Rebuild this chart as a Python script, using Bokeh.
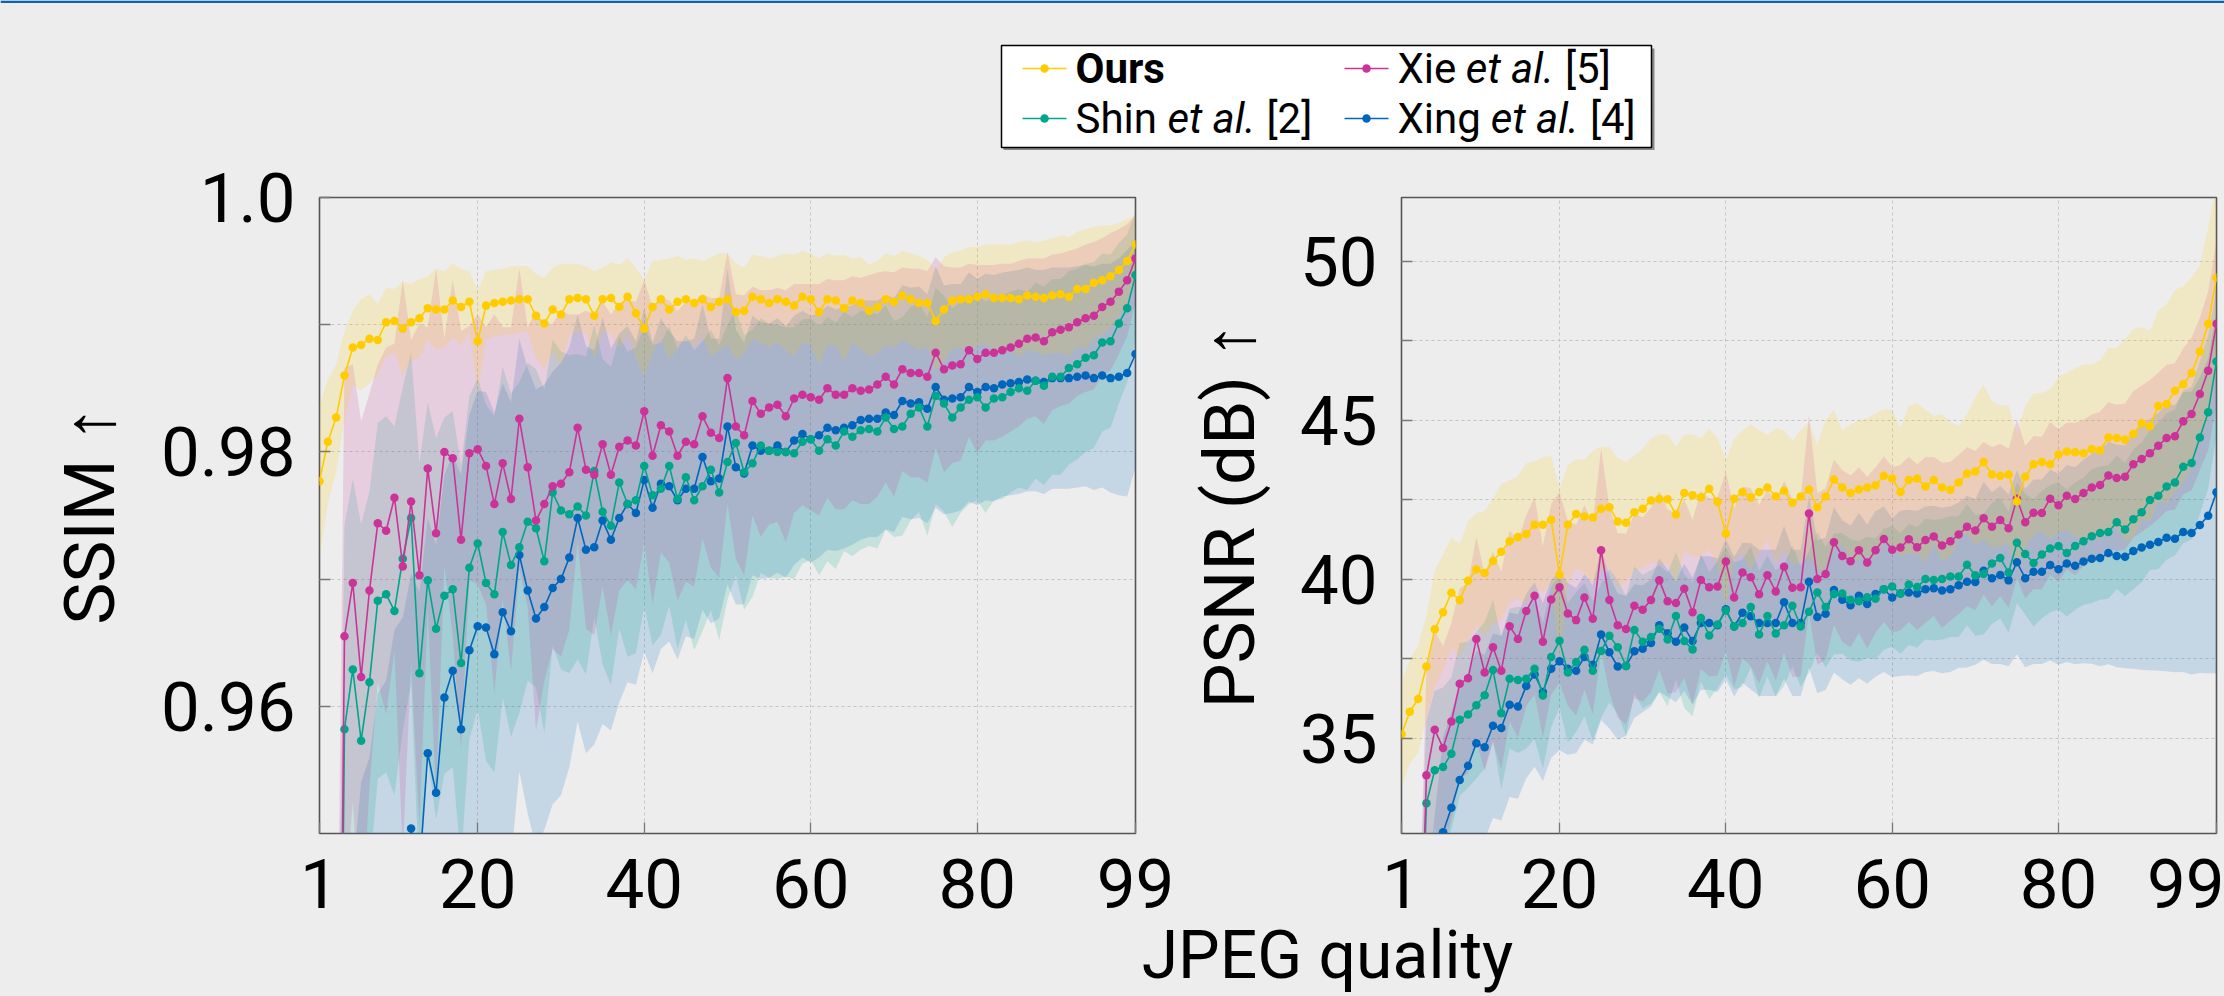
from bokeh.plotting import figure
from bokeh.layouts import column, row
from bokeh.models import Range1d, FixedTicker, CustomJSTickFormatter
from bokeh.core.properties import value
from bokeh.embed import file_html
from bokeh.resources import INLINE

BG = "#ededed"
C_OURS = "#ffcc00"
C_XIE = "#cc3399"
C_SHIN = "#00a68a"
C_XING = "#0066bb"
FONT = "Roboto"

quality = list(range(1, 100))

# ---------------- SSIM (left panel) ----------------
ssim_ours = [0.9777, 0.9808, 0.9827, 0.9860, 0.9882, 0.9884, 0.9889, 0.9888, 0.9902, 0.9903,
             0.9897, 0.9902, 0.9905, 0.9913, 0.9912, 0.9912, 0.9919, 0.9914, 0.9918, 0.9887,
             0.9915, 0.9917, 0.9918, 0.9919, 0.9920, 0.9920, 0.9907, 0.9901, 0.9912, 0.9908,
             0.9920, 0.9921, 0.9920, 0.9907, 0.9920, 0.9921, 0.9914, 0.9922, 0.9909, 0.9897,
             0.9914, 0.9920, 0.9912, 0.9918, 0.9920, 0.9917, 0.9920, 0.9914, 0.9918, 0.9920,
             0.9910, 0.9911, 0.9922, 0.9920, 0.9917, 0.9920, 0.9918, 0.9915, 0.9922, 0.9920,
             0.9910, 0.9920, 0.9919, 0.9913, 0.9919, 0.9917, 0.9911, 0.9914, 0.9920, 0.9918,
             0.9923, 0.9920, 0.9917, 0.9917, 0.9903, 0.9912, 0.9919, 0.9920, 0.9920, 0.9922,
             0.9924, 0.9921, 0.9921, 0.9921, 0.9920, 0.9923, 0.9922, 0.9921, 0.9923, 0.9924,
             0.9922, 0.9928, 0.9928, 0.9933, 0.9935, 0.9938, 0.9943, 0.9950, 0.9963]
ssim_ours_std = [0.0060, 0.0049, 0.0042, 0.0035, 0.0029, 0.0036, 0.0035, 0.0028, 0.0027, 0.0025,
                 0.0037, 0.0030, 0.0031, 0.0025, 0.0032, 0.0030, 0.0029, 0.0030, 0.0024, 0.0040,
                 0.0027, 0.0026, 0.0026, 0.0027, 0.0026, 0.0026, 0.0033, 0.0036, 0.0033, 0.0040,
                 0.0028, 0.0027, 0.0026, 0.0035, 0.0025, 0.0028, 0.0033, 0.0030, 0.0036, 0.0038,
                 0.0036, 0.0031, 0.0040, 0.0036, 0.0031, 0.0035, 0.0030, 0.0039, 0.0038, 0.0036,
                 0.0038, 0.0034, 0.0033, 0.0034, 0.0035, 0.0034, 0.0038, 0.0040, 0.0036, 0.0036,
                 0.0042, 0.0036, 0.0035, 0.0042, 0.0033, 0.0036, 0.0036, 0.0036, 0.0036, 0.0036,
                 0.0035, 0.0036, 0.0037, 0.0034, 0.0039, 0.0041, 0.0038, 0.0038, 0.0041, 0.0039,
                 0.0039, 0.0042, 0.0042, 0.0042, 0.0045, 0.0043, 0.0043, 0.0045, 0.0045, 0.0046,
                 0.0047, 0.0045, 0.0047, 0.0044, 0.0043, 0.0040, 0.0037, 0.0033, 0.0023]

ssim_xie = [0.880, 0.890, 0.900, 0.9655, 0.9697, 0.9623, 0.9691, 0.9744, 0.9738, 0.9764,
            0.9710, 0.9761, 0.9703, 0.9787, 0.9736, 0.9800, 0.9795, 0.9731, 0.9799, 0.9802,
            0.9789, 0.9759, 0.9791, 0.9763, 0.9826, 0.9788, 0.9746, 0.9759, 0.9773, 0.9775,
            0.9784, 0.9819, 0.9786, 0.9782, 0.9806, 0.9782, 0.9804, 0.9809, 0.9805, 0.9832,
            0.9797, 0.9821, 0.9816, 0.9797, 0.9808, 0.9806, 0.9828, 0.9815, 0.9811, 0.9858,
            0.9820, 0.9813, 0.9840, 0.9830, 0.9835, 0.9837, 0.9828, 0.9842, 0.9845, 0.9843,
            0.9841, 0.9850, 0.9845, 0.9845, 0.9850, 0.9848, 0.9849, 0.9853, 0.9859, 0.9853,
            0.9865, 0.9862, 0.9862, 0.9859, 0.9878, 0.9865, 0.9868, 0.9869, 0.9880, 0.9873,
            0.9878, 0.9878, 0.9880, 0.9882, 0.9885, 0.9889, 0.9890, 0.9887, 0.9894, 0.9896,
            0.9898, 0.9902, 0.9905, 0.9907, 0.9914, 0.9918, 0.9926, 0.9935, 0.9952]
ssim_xie_std = [0.030, 0.030, 0.030, 0.0211, 0.0172, 0.0201, 0.0155, 0.0125, 0.0144, 0.0121,
                0.0225, 0.0127, 0.0198, 0.0111, 0.0208, 0.0089, 0.0140, 0.0164, 0.0100, 0.0106,
                0.0109, 0.0149, 0.0107, 0.0135, 0.0118, 0.0110, 0.0165, 0.0139, 0.0128, 0.0136,
                0.0124, 0.0089, 0.0125, 0.0126, 0.0112, 0.0126, 0.0113, 0.0110, 0.0113, 0.0103,
                0.0117, 0.0100, 0.0103, 0.0114, 0.0110, 0.0112, 0.0096, 0.0106, 0.0110, 0.0099,
                0.0104, 0.0110, 0.0090, 0.0097, 0.0092, 0.0092, 0.0099, 0.0090, 0.0087, 0.0089,
                0.0091, 0.0086, 0.0090, 0.0090, 0.0088, 0.0089, 0.0090, 0.0088, 0.0083, 0.0088,
                0.0080, 0.0082, 0.0082, 0.0083, 0.0075, 0.0081, 0.0077, 0.0076, 0.0068, 0.0074,
                0.0069, 0.0069, 0.0068, 0.0066, 0.0065, 0.0063, 0.0062, 0.0065, 0.0061, 0.0060,
                0.0060, 0.0058, 0.0058, 0.0058, 0.0054, 0.0054, 0.0049, 0.0044, 0.0034]

ssim_shin = [0.875, 0.885, 0.895, 0.9582, 0.9629, 0.9573, 0.9619, 0.9683, 0.9688, 0.9675,
             0.9716, 0.9748, 0.9626, 0.9699, 0.9661, 0.9687, 0.9692, 0.9634, 0.9709, 0.9728,
             0.9697, 0.9688, 0.9737, 0.9711, 0.9725, 0.9745, 0.9740, 0.9714, 0.9768, 0.9754,
             0.9751, 0.9757, 0.9750, 0.9785, 0.9753, 0.9742, 0.9776, 0.9759, 0.9762, 0.9789,
             0.9766, 0.9771, 0.9789, 0.9763, 0.9780, 0.9762, 0.9773, 0.9786, 0.9768, 0.9792,
             0.9807, 0.9784, 0.9791, 0.9805, 0.9801, 0.9800, 0.9800, 0.9799, 0.9808, 0.9810,
             0.9801, 0.9810, 0.9805, 0.9816, 0.9812, 0.9817, 0.9818, 0.9816, 0.9827, 0.9818,
             0.9820, 0.9830, 0.9835, 0.9820, 0.9844, 0.9838, 0.9827, 0.9835, 0.9841, 0.9843,
             0.9835, 0.9842, 0.9843, 0.9847, 0.9850, 0.9848, 0.9856, 0.9852, 0.9859, 0.9859,
             0.9866, 0.9869, 0.9874, 0.9876, 0.9886, 0.9887, 0.9901, 0.9913, 0.9939]
ssim_shin_std = [0.030, 0.030, 0.030, 0.0160, 0.0150, 0.0170, 0.0150, 0.0140, 0.0140, 0.0145,
                 0.0135, 0.0130, 0.0165, 0.0140, 0.0150, 0.0140, 0.0140, 0.0155, 0.0135, 0.0130,
                 0.0140, 0.0140, 0.0130, 0.0135, 0.0130, 0.0125, 0.0125, 0.0135, 0.0120, 0.0125,
                 0.0125, 0.0120, 0.0125, 0.0115, 0.0120, 0.0125, 0.0115, 0.0120, 0.0120, 0.0110,
                 0.0118, 0.0115, 0.0110, 0.0118, 0.0112, 0.0118, 0.0114, 0.0110, 0.0116, 0.0108,
                 0.0104, 0.0108, 0.0105, 0.0100, 0.0100, 0.0100, 0.0098, 0.0099, 0.0096, 0.0095,
                 0.0098, 0.0096, 0.0097, 0.0094, 0.0094, 0.0094, 0.0092, 0.0092, 0.0088, 0.0085,
                 0.0086, 0.0084, 0.0082, 0.0086, 0.0085, 0.0085, 0.0086, 0.0083, 0.0082, 0.0081,
                 0.0083, 0.0080, 0.0080, 0.0079, 0.0078, 0.0078, 0.0077, 0.0078, 0.0077, 0.0077,
                 0.0076, 0.0075, 0.0074, 0.0073, 0.0070, 0.0068, 0.0063, 0.0058, 0.0050]

ssim_xing = [0.881, 0.893, 0.899, 0.912, 0.917, 0.926, 0.929, 0.935, 0.937, 0.942,
             0.944, 0.9504, 0.9470, 0.9563, 0.9532, 0.9607, 0.9628, 0.9582, 0.9644, 0.9663,
             0.9662, 0.9641, 0.9674, 0.9659, 0.9719, 0.9691, 0.9669, 0.9678, 0.9693, 0.9700,
             0.9717, 0.9748, 0.9723, 0.9725, 0.9746, 0.9731, 0.9748, 0.9759, 0.9752, 0.9778,
             0.9756, 0.9775, 0.9773, 0.9762, 0.9771, 0.9771, 0.9796, 0.9777, 0.9779, 0.9820,
             0.9788, 0.9783, 0.9805, 0.9801, 0.9801, 0.9805, 0.9800, 0.9809, 0.9814, 0.9810,
             0.9813, 0.9819, 0.9817, 0.9819, 0.9821, 0.9825, 0.9826, 0.9826, 0.9831, 0.9829,
             0.9840, 0.9838, 0.9839, 0.9834, 0.9851, 0.9841, 0.9842, 0.9843, 0.9851, 0.9847,
             0.9851, 0.9850, 0.9853, 0.9854, 0.9855, 0.9857, 0.9856, 0.9855, 0.9858, 0.9858,
             0.9858, 0.9859, 0.9860, 0.9858, 0.9860, 0.9858, 0.9859, 0.9862, 0.9877]
ssim_xing_std = [0.030, 0.030, 0.030, 0.030, 0.030, 0.028, 0.027, 0.026, 0.025, 0.024,
                 0.023, 0.0200, 0.0220, 0.0185, 0.0195, 0.0175, 0.0170, 0.0200, 0.0185, 0.0185,
                 0.0185, 0.0190, 0.0180, 0.0180, 0.0170, 0.0175, 0.0180, 0.0175, 0.0170, 0.0170,
                 0.0165, 0.0160, 0.0160, 0.0155, 0.0160, 0.0150, 0.0145, 0.0140, 0.0135, 0.0135,
                 0.0130, 0.0130, 0.0122, 0.0125, 0.0116, 0.0118, 0.0120, 0.0112, 0.0110, 0.0124,
                 0.0108, 0.0103, 0.0102, 0.0101, 0.0100, 0.0100, 0.0099, 0.0098, 0.0097, 0.0097,
                 0.0096, 0.0096, 0.0095, 0.0095, 0.0094, 0.0094, 0.0093, 0.0093, 0.0092, 0.0092,
                 0.0091, 0.0091, 0.0091, 0.0090, 0.0095, 0.0090, 0.0090, 0.0089, 0.0090, 0.0089,
                 0.0089, 0.0089, 0.0088, 0.0088, 0.0088, 0.0088, 0.0087, 0.0088, 0.0087, 0.0087,
                 0.0087, 0.0087, 0.0087, 0.0088, 0.0088, 0.0090, 0.0093, 0.0097, 0.0089]

# ---------------- PSNR (right panel) ----------------
psnr_ours = [35.12, 35.83, 36.23, 37.25, 38.42, 38.96, 39.57, 39.34, 39.95, 40.30,
             40.19, 40.57, 40.86, 41.19, 41.32, 41.42, 41.71, 41.71, 41.87, 40.14,
             41.71, 42.05, 41.97, 41.94, 42.21, 42.26, 41.81, 41.77, 42.10, 42.21,
             42.47, 42.52, 42.51, 42.03, 42.71, 42.64, 42.57, 42.84, 42.43, 41.43,
             42.53, 42.74, 42.57, 42.74, 42.88, 42.60, 42.78, 42.40, 42.60, 42.82,
             42.26, 42.60, 43.13, 42.88, 42.71, 42.82, 42.88, 42.95, 43.25, 43.16,
             42.74, 43.12, 43.16, 42.91, 43.12, 42.88, 42.81, 43.04, 43.32, 43.38,
             43.68, 43.29, 43.25, 43.29, 42.44, 43.22, 43.61, 43.68, 43.61, 43.92,
             44.01, 43.99, 43.96, 44.09, 44.05, 44.45, 44.44, 44.38, 44.57, 44.90,
             44.81, 45.44, 45.51, 45.92, 46.13, 46.48, 47.16, 48.03, 49.48]
psnr_ours_std = [1.64, 1.64, 1.69, 1.60, 1.84, 1.82, 1.73, 1.77, 1.87, 1.78,
                 1.95, 1.96, 2.13, 1.92, 1.92, 2.22, 1.99, 2.12, 2.00, 2.71,
                 1.86, 1.71, 1.79, 2.09, 1.95, 1.90, 2.00, 1.90, 1.79, 1.88,
                 1.95, 2.03, 2.04, 2.13, 1.83, 1.91, 1.86, 1.90, 1.99, 2.34,
                 1.88, 1.94, 2.30, 1.94, 1.66, 2.14, 1.90, 1.95, 2.08, 2.12,
                 1.96, 2.40, 2.19, 1.79, 2.16, 2.18, 2.18, 2.25, 2.08, 2.17,
                 2.00, 2.34, 2.36, 2.42, 2.01, 2.31, 2.13, 1.77, 1.87, 2.34,
                 2.43, 2.30, 2.21, 2.17, 2.10, 2.23, 2.23, 2.17, 2.36, 2.44,
                 2.48, 2.64, 2.79, 2.66, 2.83, 2.82, 2.83, 3.16, 3.29, 3.03,
                 2.99, 3.00, 3.13, 3.17, 3.09, 3.00, 2.71, 3.01, 3.00]

psnr_xie = [22.0, 23.5, 25.0, 33.83, 35.26, 34.69, 35.52, 36.71, 36.88, 38.12,
            37.06, 37.86, 37.12, 38.52, 38.12, 39.00, 39.48, 38.03, 39.36, 39.74,
            38.92, 38.71, 39.42, 38.75, 40.91, 39.34, 38.55, 38.43, 39.16, 39.04,
            39.34, 39.96, 39.30, 39.25, 39.70, 38.96, 39.97, 39.74, 39.77, 40.55,
            39.42, 40.21, 40.06, 39.52, 40.12, 39.61, 40.39, 39.73, 39.74, 42.06,
            40.00, 40.16, 41.16, 40.73, 40.56, 40.91, 40.52, 40.91, 41.26, 40.92,
            40.99, 41.25, 41.00, 41.23, 41.34, 41.06, 41.19, 41.40, 41.65, 41.53,
            41.91, 41.65, 41.86, 41.60, 42.53, 41.79, 42.09, 42.08, 42.53, 42.32,
            42.62, 42.52, 42.71, 42.88, 42.96, 43.26, 43.18, 43.22, 43.61, 43.78,
            43.96, 44.19, 44.44, 44.49, 44.96, 45.19, 45.82, 46.55, 48.03]
psnr_xie_std = [3.0, 3.0, 3.0, 3.3, 3.1, 3.2, 3.1, 3.0, 3.0, 3.2,
                3.1, 3.0, 3.1, 3.0, 3.1, 3.0, 3.1, 3.0, 3.0, 3.0,
                2.9, 3.0, 2.9, 3.0, 3.2, 2.9, 2.9, 3.0, 2.9, 2.9,
                2.9, 2.8, 2.9, 2.8, 2.8, 2.9, 2.8, 2.8, 2.8, 2.8,
                2.8, 2.7, 2.8, 2.8, 2.7, 2.8, 2.7, 2.8, 2.8, 3.1,
                2.7, 2.7, 2.6, 2.7, 2.7, 2.6, 2.7, 2.6, 2.6, 2.6,
                2.6, 2.6, 2.6, 2.6, 2.5, 2.6, 2.5, 2.5, 2.5, 2.5,
                2.4, 2.5, 2.4, 2.5, 2.5, 2.4, 2.4, 2.4, 2.4, 2.4,
                2.3, 2.4, 2.3, 2.3, 2.3, 2.3, 2.3, 2.3, 2.3, 2.3,
                2.3, 2.3, 2.3, 2.3, 2.3, 2.4, 2.4, 2.5, 2.6]

psnr_shin = [22.5, 24.0, 25.5, 32.95, 33.99, 34.09, 34.51, 35.58, 35.74, 36.03,
             36.35, 37.14, 35.78, 36.87, 36.83, 36.87, 37.18, 36.34, 37.55, 38.06,
             37.06, 37.39, 37.78, 37.12, 37.74, 38.22, 37.86, 37.27, 38.40, 38.03,
             38.18, 38.44, 38.10, 38.84, 38.05, 37.79, 38.78, 38.23, 38.57, 39.01,
             38.52, 38.62, 39.12, 38.26, 38.84, 38.29, 38.55, 39.16, 38.51, 38.97,
             39.58, 39.12, 39.53, 39.55, 39.35, 39.30, 39.43, 39.38, 39.68, 39.77,
             39.55, 39.83, 39.75, 40.00, 39.97, 40.00, 40.08, 40.08, 40.45, 40.12,
             40.16, 40.49, 40.66, 40.21, 41.14, 40.79, 40.51, 40.77, 40.96, 41.04,
             40.82, 41.04, 41.19, 41.35, 41.45, 41.48, 41.79, 41.56, 41.88, 42.10,
             42.49, 42.62, 42.91, 43.04, 43.53, 43.65, 44.45, 45.25, 46.84]
psnr_shin_std = [3.0, 3.0, 3.0, 2.6, 2.5, 2.5, 2.4, 2.4, 2.3, 2.3,
                 2.3, 2.2, 2.4, 2.2, 2.3, 2.2, 2.2, 2.3, 2.2, 2.1,
                 2.2, 2.2, 2.1, 2.2, 2.1, 2.1, 2.1, 2.2, 2.0, 2.1,
                 2.1, 2.0, 2.1, 2.0, 2.1, 2.1, 2.0, 2.0, 2.0, 2.0,
                 2.0, 2.0, 1.9, 2.0, 1.9, 2.0, 1.9, 1.9, 1.9, 1.9,
                 1.9, 1.9, 1.9, 1.9, 1.9, 1.9, 1.9, 1.9, 1.9, 1.9,
                 1.9, 1.9, 1.9, 1.9, 1.9, 1.9, 1.9, 1.9, 1.9, 1.9,
                 1.9, 1.9, 1.9, 1.9, 1.9, 1.9, 2.0, 2.0, 2.0, 2.0,
                 2.0, 2.0, 2.0, 2.1, 2.1, 2.1, 2.1, 2.1, 2.2, 2.2,
                 2.2, 2.3, 2.3, 2.3, 2.4, 2.4, 2.4, 2.4, 2.3]

psnr_xing = [21.8, 23.9, 25.2, 27.1, 29.6, 32.04, 32.81, 33.68, 34.13, 34.84,
             34.71, 35.39, 35.32, 36.05, 35.99, 36.64, 37.00, 36.45, 37.18, 37.42,
             37.18, 37.12, 37.55, 37.31, 38.26, 37.70, 37.25, 37.27, 37.73, 37.81,
             37.99, 38.55, 38.30, 38.03, 38.48, 38.05, 38.62, 38.62, 38.55, 39.05,
             38.51, 38.94, 38.83, 38.62, 38.62, 38.62, 39.27, 38.62, 38.62, 39.92,
             38.81, 38.91, 39.66, 39.35, 39.18, 39.48, 39.22, 39.53, 39.68, 39.42,
             39.55, 39.58, 39.55, 39.68, 39.71, 39.64, 39.68, 39.81, 39.92, 39.91,
             40.26, 40.03, 40.13, 39.96, 40.53, 40.03, 40.23, 40.23, 40.44, 40.31,
             40.49, 40.42, 40.55, 40.64, 40.66, 40.82, 40.73, 40.70, 40.88, 40.99,
             41.08, 41.17, 41.30, 41.27, 41.48, 41.45, 41.70, 41.99, 42.73]
psnr_xing_std = [3.0, 3.0, 3.0, 3.0, 3.0, 3.0, 3.0, 3.0, 2.9, 2.9,
                 2.9, 2.9, 2.9, 2.9, 2.9, 2.9, 2.9, 2.8, 2.8, 2.8,
                 2.7, 2.6, 2.6, 2.5, 2.7, 2.4, 2.3, 2.2, 2.1, 2.0,
                 2.0, 2.1, 2.0, 1.9, 2.0, 2.0, 2.1, 2.1, 2.1, 2.2,
                 2.2, 2.2, 2.3, 2.3, 2.3, 2.3, 2.4, 2.3, 2.3, 2.7,
                 2.4, 2.4, 2.6, 2.5, 2.5, 2.6, 2.5, 2.6, 2.6, 2.5,
                 2.6, 2.6, 2.6, 2.6, 2.6, 2.6, 2.6, 2.6, 2.7, 2.6,
                 2.8, 2.7, 2.8, 2.7, 2.9, 2.8, 2.9, 2.9, 3.0, 3.0,
                 3.1, 3.1, 3.2, 3.3, 3.4, 3.5, 3.5, 3.5, 3.7, 3.85,
                 3.95, 4.05, 4.2, 4.2, 4.4, 4.45, 4.65, 4.95, 5.7]

x_tick_values = [1, 20, 40, 60, 80, 99]
ssim_ticks = [0.96, 0.98, 1.0]
ssim_minor = [0.97, 0.99]
psnr_ticks = [35, 40, 45, 50]
psnr_minor = [37.5, 42.5, 47.5]

TOP_H = 151
PANEL_TOP = 46
FRAME_H = 636
PANEL_BOTTOM = 100
PANEL_H = PANEL_TOP + FRAME_H + PANEL_BOTTOM
BOT_START = 900
BOT_OVERLAP = TOP_H + PANEL_H - BOT_START
BOT_H = 996 - BOT_START
WL = 1180
WR = 2224 - WL


def style_panel(p, ticks, minor, fmt_code, ylabel, label_standoff):
    p.background_fill_color = BG
    p.border_fill_color = BG
    p.outline_line_color = "#555555"
    p.outline_line_width = 1.6
    p.xaxis.ticker = FixedTicker(ticks=x_tick_values)
    p.yaxis.ticker = FixedTicker(ticks=ticks, minor_ticks=minor)
    p.yaxis.formatter = CustomJSTickFormatter(code=fmt_code)
    for ax in (p.xaxis[0], p.yaxis[0]):
        ax.axis_line_color = None
        ax.major_tick_in = 11
        ax.major_tick_out = 0
        ax.minor_tick_in = 11
        ax.minor_tick_out = 0
        ax.major_tick_line_color = "#777777"
        ax.minor_tick_line_color = "#777777"
        ax.major_tick_line_width = 1.3
        ax.minor_tick_line_width = 1.3
        ax.major_label_text_font = FONT
        ax.major_label_text_font_size = "69px"
        ax.major_label_text_color = "#000000"
    p.xaxis.major_label_standoff = 25
    p.yaxis.major_label_standoff = 24
    p.xaxis.minor_tick_line_color = None
    p.yaxis.axis_label = ylabel
    p.yaxis.axis_label_text_font = FONT
    p.yaxis.axis_label_text_font_size = "71px"
    p.yaxis.axis_label_text_font_style = "normal"
    p.yaxis.axis_label_text_color = "#000000"
    p.yaxis.axis_label_standoff = label_standoff
    p.xgrid.grid_line_color = "#c4c4c4"
    p.xgrid.grid_line_dash = "3 3"
    p.xgrid.grid_line_width = 1
    p.ygrid.grid_line_color = "#c4c4c4"
    p.ygrid.grid_line_dash = "3 3"
    p.ygrid.grid_line_width = 1
    p.ygrid.minor_grid_line_color = "#c4c4c4"
    p.ygrid.minor_grid_line_dash = "3 3"
    p.ygrid.minor_grid_line_width = 1


def draw_series(p, data):
    colors = {"Ours": C_OURS, "Shin": C_SHIN, "Xie": C_XIE, "Xing": C_XING}
    order = ["Xing", "Shin", "Xie", "Ours"]
    for name in order:
        mean, std = data[name]
        lo = [m - s for m, s in zip(mean, std)]
        hi = [m + s for m, s in zip(mean, std)]
        p.varea(x=quality, y1=lo, y2=hi, fill_color=colors[name], fill_alpha=0.17)
    for name in order:
        mean, std = data[name]
        p.line(quality, mean, line_color=colors[name], line_width=1.6)
        p.scatter(quality, mean, size=8.5, fill_color=colors[name], line_color=colors[name],
                  line_width=0)


left = figure(width=WL, height=PANEL_H, x_range=Range1d(1, 99), y_range=Range1d(0.95, 1.0),
              output_backend="svg", toolbar_location=None,
              min_border_left=319, min_border_right=WL - 1135,
              min_border_top=PANEL_TOP, min_border_bottom=PANEL_BOTTOM)
style_panel(left, ssim_ticks, ssim_minor,
            "return tick > 0.995 ? '1.0' : tick.toFixed(2);", "SSIM \u2191", 27)
draw_series(left, {"Ours": (ssim_ours, ssim_ours_std), "Shin": (ssim_shin, ssim_shin_std),
                   "Xie": (ssim_xie, ssim_xie_std), "Xing": (ssim_xing, ssim_xing_std)})

right = figure(width=WR, height=PANEL_H, x_range=Range1d(1, 99), y_range=Range1d(32, 52),
               output_backend="svg", toolbar_location=None,
               min_border_left=1401 - WL, min_border_right=8,
               min_border_top=PANEL_TOP, min_border_bottom=PANEL_BOTTOM)
style_panel(right, psnr_ticks, psnr_minor, "return tick.toFixed(0);", "PSNR (dB) \u2191", 26)
draw_series(right, {"Ours": (psnr_ours, psnr_ours_std), "Shin": (psnr_shin, psnr_shin_std),
                    "Xie": (psnr_xie, psnr_xie_std), "Xing": (psnr_xing, psnr_xing_std)})

# ---------------- legend strip (pixel coordinates, y downward) ----------------
top = figure(width=2224, height=TOP_H, x_range=Range1d(0, 2224), y_range=Range1d(TOP_H, 0),
             output_backend="svg", toolbar_location=None,
             x_axis_location=None, y_axis_location=None, min_border=0)
top.background_fill_color = BG
top.border_fill_color = BG
top.outline_line_color = None
top.grid.visible = False
top.quad(left=[0], right=[2224], top=[0], bottom=[2.5], fill_color="#0a64b4", line_color=None)
top.quad(left=[1003], right=[1654], top=[48], bottom=[149.5], fill_color="#8a8a8a", line_color=None)
top.quad(left=[1001], right=[1651], top=[45], bottom=[147], fill_color="#ffffff",
         line_color="#000000", line_width=1.5)

W_REG = {' ': 507, 'S': 1217, 'h': 1129, 'i': 496, 'n': 1131, 'X': 1269, 'e': 1059, 'g': 1146,
         '[': 546, ']': 546, '2': 1150, '4': 1150, '5': 1150}
W_IT = {'e': 1049, 't': 655, ' ': 507, 'a': 1088, 'l': 487, '.': 539}
LFS = 42


def tw(s, table):
    return sum(table.get(c, 1100) for c in s) / 2048.0 * LFS


SPACE = tw(" ", W_REG)
legend_entries = [
    (C_OURS, 1044, 68, [("Ours", "bold", None)]),
    (C_SHIN, 1044, 118, [("Shin", "normal", W_REG), ("et al.", "italic", W_IT), ("[2]", "normal", W_REG)]),
    (C_XIE, 1366, 68, [("Xie", "normal", W_REG), ("et al.", "italic", W_IT), ("[5]", "normal", W_REG)]),
    (C_XING, 1366, 118, [("Xing", "normal", W_REG), ("et al.", "italic", W_IT), ("[4]", "normal", W_REG)]),
]
for color, cx, cy, pieces in legend_entries:
    top.line([cx - 22, cx + 22], [cy, cy], line_color=color, line_width=1.6)
    top.scatter([cx], [cy], size=8.5, fill_color=color, line_color=color, line_width=0)
    x = cx + 31
    for txt, style, table in pieces:
        top.text(x=[x], y=[cy], text=[txt], text_font=value(FONT), text_font_size=f"{LFS}px",
                 text_font_style=style, text_baseline="middle", text_align="left",
                 text_color="#000000")
        if table is not None:
            x += tw(txt, table) + SPACE

# ---------------- shared x label strip (transparent, overlaps the panel row a little) ----------------
bot = figure(width=2224, height=BOT_H, x_range=Range1d(0, 2224), y_range=Range1d(BOT_H, 0),
             output_backend="svg", toolbar_location=None,
             x_axis_location=None, y_axis_location=None, min_border=0,
             margin=(-BOT_OVERLAP, 0, 0, 0))
bot.background_fill_alpha = 0
bot.border_fill_alpha = 0
bot.outline_line_color = None
bot.grid.visible = False
bot.text(x=[1327], y=[955 - BOT_START], text=["JPEG quality"], text_font=value(FONT),
         text_font_size="66px", text_baseline="middle", text_align="center",
         text_color="#000000")

panels = row(left, right, styles={"background-color": BG})
layout = column(top, panels, bot, styles={"background-color": BG})
open("out.html", "w").write(file_html(layout, INLINE))
